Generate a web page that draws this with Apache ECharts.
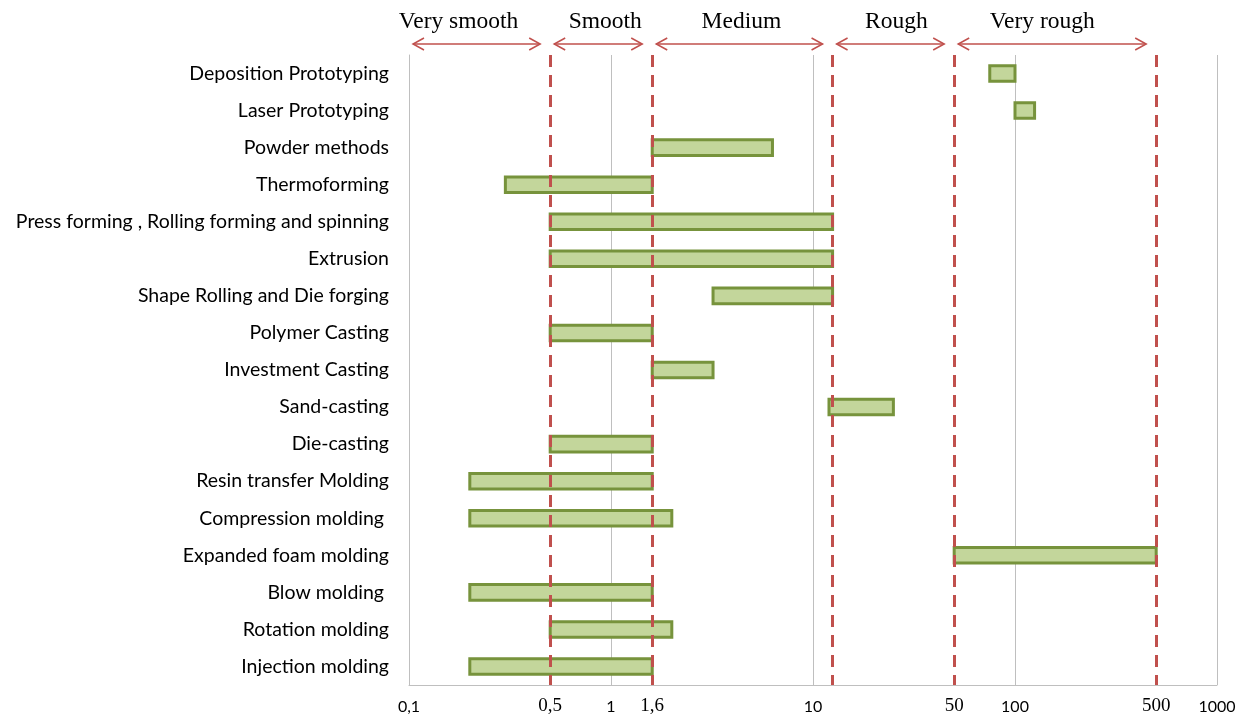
<!DOCTYPE html>
<html>
<head>
<meta charset="utf-8">
<script src="https://cdn.jsdelivr.net/npm/echarts@6/dist/echarts.min.js"></script>
<style>
  html, body { margin: 0; padding: 0; background: #fff; }
  #chart { width: 1247px; height: 722px; }
</style>
</head>
<body>
<div id="chart"></div>
<script>
// processes, top to bottom
const categories = [
  "Deposition Prototyping",
  "Laser Prototyping",
  "Powder methods",
  "Thermoforming",
  "Press forming , Rolling forming and spinning",
  "Extrusion",
  "Shape Rolling and Die forging",
  "Polymer Casting",
  "Investment Casting",
  "Sand-casting",
  "Die-casting",
  "Resin transfer Molding",
  "Compression molding ",
  "Expanded foam molding",
  "Blow molding ",
  "Rotation molding",
  "Injection molding"
];
// roughness range (low / high) for each process
const lowValues = [75, 100, 1.6, 0.3, 0.5, 0.5, 3.2, 0.5, 1.6, 12, 0.5, 0.2, 0.2, 50, 0.2, 0.5, 0.2];
const highValues = [100, 125, 6.3, 1.6, 12.5, 12.5, 12.5, 1.6, 3.2, 25, 1.6, 1.6, 2, 500, 1.6, 2, 1.6];

// class limits (red dashed lines) and class names
const boundaries = [0.1, 0.5, 1.6, 12.5, 50, 500];
const extraTickLabels = [0.5, 1.6, 50, 500];
const classNames = ["Very smooth", "Smooth", "Medium", "Rough", "Very rough"];
const classLabelShift = [-18, 7, 2, 6, -10]; // text is not exactly centred on its arrow

const RED = "#c0504d";
const fmt = v => String(+v.toPrecision(6)).replace(".", ",");

const chart = echarts.init(document.getElementById("chart"));

chart.setOption({
  animation: false,
  grid: { left: 409, right: 30, top: 55, bottom: 37 },
  xAxis: {
    type: "log",
    logBase: 10,
    min: 0.1,
    max: 1000,
    axisLine: { show: true, lineStyle: { color: "#bfbfbf", width: 1 } },
    axisTick: { show: false },
    splitLine: { show: true, lineStyle: { color: "#bfbfbf", width: 1 } },
    axisLabel: {
      margin: 14,
      color: "#000",
      fontFamily: "Lato",
      fontSize: 16,
      formatter: fmt
    }
  },
  yAxis: {
    type: "category",
    data: categories,
    inverse: true,
    axisLine: { show: true, lineStyle: { color: "#bfbfbf", width: 1 } },
    axisTick: { show: false },
    splitLine: { show: false },
    axisLabel: {
      margin: 20,
      color: "#000",
      fontFamily: "Lato",
      fontSize: 19.5
    }
  },
  series: [
    {
      type: "custom",
      z: 2,
      encode: { x: [1, 2], y: 0 },
      data: categories.map((c, i) => [i, lowValues[i], highValues[i]]),
      renderItem: function (params, api) {
        const y = api.value(0);
        const s = api.coord([api.value(1), y]);
        const e = api.coord([api.value(2), y]);
        const h = api.size([0, 1])[1] * 0.42;
        return {
          type: "rect",
          shape: { x: s[0], y: s[1] - h / 2, width: e[0] - s[0], height: h },
          style: { fill: "#c3d69b", stroke: "#77933c", lineWidth: 3 }
        };
      }
    },
    {
      type: "line",
      data: [],
      z: 5,
      markLine: {
        silent: true,
        symbol: ["none", "none"],
        label: { show: false },
        lineStyle: { color: RED, width: 3, type: [12, 8] },
        data: boundaries.slice(1).map(b => ({ xAxis: b }))
      }
    }
  ]
});

// overlays: class arrows on top, extra tick labels at the bottom
const px = v => chart.convertToPixel({ xAxisIndex: 0 }, v);
const graphics = [];
const arrowY = 44;
classNames.forEach((name, i) => {
  const x0 = px(boundaries[i]) + 4;
  const x1 = px(boundaries[i + 1]) - 10;
  const st = { stroke: RED, lineWidth: 1.5, fill: null };
  graphics.push({ type: "line", shape: { x1: x0, y1: arrowY, x2: x1, y2: arrowY }, style: st });
  graphics.push({ type: "polyline", shape: { points: [[x0 + 11, arrowY - 6], [x0, arrowY], [x0 + 11, arrowY + 6]] }, style: st });
  graphics.push({ type: "polyline", shape: { points: [[x1 - 11, arrowY - 6], [x1, arrowY], [x1 - 11, arrowY + 6]] }, style: st });
  graphics.push({
    type: "text",
    x: (x0 + x1) / 2 + classLabelShift[i],
    y: 22,
    style: {
      text: name,
      fill: "#000",
      font: '23.5px "Liberation Serif", "Times New Roman", serif',
      align: "center",
      verticalAlign: "middle"
    }
  });
});
extraTickLabels.forEach(v => {
  graphics.push({
    type: "text",
    x: px(v),
    y: 706,
    style: {
      text: fmt(v),
      fill: "#000",
      font: '19px "Liberation Serif", "Times New Roman", serif',
      align: "center",
      verticalAlign: "middle"
    }
  });
});
chart.setOption({ graphic: graphics });
</script>
</body>
</html>
